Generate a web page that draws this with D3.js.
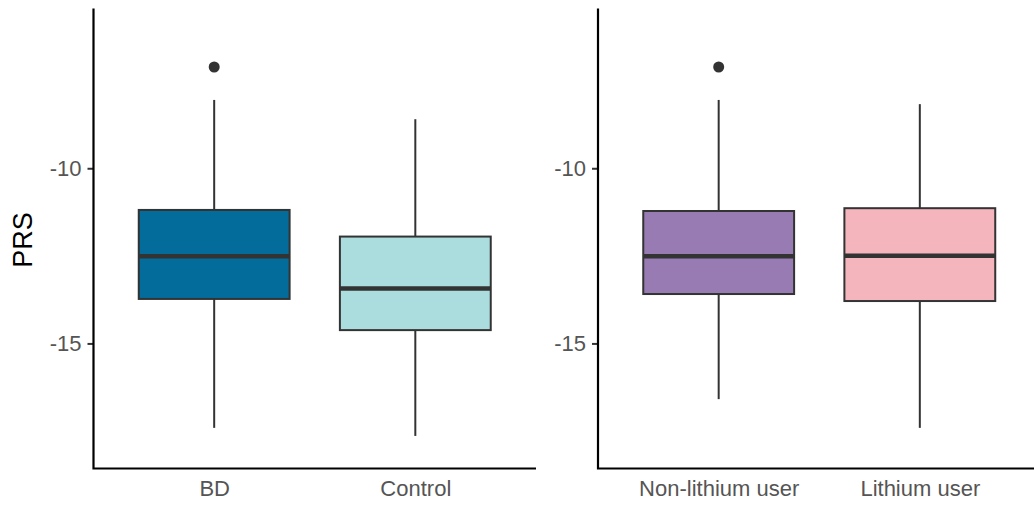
<!DOCTYPE html>
<html>
<head>
<meta charset="utf-8">
<script src="https://cdn.jsdelivr.net/npm/d3@7"></script>
<style>
  html, body { margin: 0; padding: 0; background: #fff; }
  svg { display: block; }
  text { font-family: "Liberation Sans", Arial, Helvetica, sans-serif; }
</style>
</head>
<body>
<svg id="chart" width="1034" height="505"></svg>
<script>
// Polygenic risk score by group: five-number summaries per box
const diagnosisGroups = ["BD", "Control"];
const diagnosisLower  = [-17.41, -17.64];
const diagnosisQ1     = [-13.73, -14.62];
const diagnosisMedian = [-12.51, -13.43];
const diagnosisQ3     = [-11.19, -11.95];
const diagnosisUpper  = [-8.05, -8.60];
const diagnosisOutliers = [[-7.11], []];
const diagnosisColors = ["#046C9A", "#ABDDDE"];

const lithiumGroups = ["Non-lithium user", "Lithium user"];
const lithiumLower  = [-16.59, -17.41];
const lithiumQ1     = [-13.59, -13.79];
const lithiumMedian = [-12.51, -12.50];
const lithiumQ3     = [-11.22, -11.14];
const lithiumUpper  = [-8.05, -8.17];
const lithiumOutliers = [[-7.11], []];
const lithiumColors = ["#977BB2", "#F5B5BD"];

const yTicks = [-10, -15];
const yDomain = [-18.57, -5.44];
const yLabel = "PRS";

const svg = d3.select("#chart");
const y = d3.scaleLinear().domain(yDomain).range([468.5, 8.5]);

function drawPanel(x0, x1, groups, lower, q1, med, q3, upper, outliers, colors) {
  const g = svg.append("g");
  const x = d3.scalePoint().domain(groups).range([x0, x1]).padding(0.6);
  const boxW = x.step() * 0.75;

  const rows = groups.map((k, i) => ({
    k, lo: lower[i], q1: q1[i], med: med[i], q3: q3[i], hi: upper[i],
    out: outliers[i], fill: colors[i]
  }));

  const box = g.selectAll("g.box").data(rows).join("g").attr("class", "box");

  // whiskers
  box.append("line")
    .attr("x1", d => x(d.k)).attr("x2", d => x(d.k))
    .attr("y1", d => y(d.q3)).attr("y2", d => y(d.hi))
    .attr("stroke", "#333333").attr("stroke-width", 2);
  box.append("line")
    .attr("x1", d => x(d.k)).attr("x2", d => x(d.k))
    .attr("y1", d => y(d.q1)).attr("y2", d => y(d.lo))
    .attr("stroke", "#333333").attr("stroke-width", 2);

  // interquartile box
  box.append("rect")
    .attr("x", d => x(d.k) - boxW / 2).attr("width", boxW)
    .attr("y", d => y(d.q3)).attr("height", d => y(d.q1) - y(d.q3))
    .attr("fill", d => d.fill)
    .attr("stroke", "#333333").attr("stroke-width", 2);

  // median
  box.append("line")
    .attr("x1", d => x(d.k) - boxW / 2).attr("x2", d => x(d.k) + boxW / 2)
    .attr("y1", d => y(d.med)).attr("y2", d => y(d.med))
    .attr("stroke", "#333333").attr("stroke-width", 4.5);

  // outliers
  box.selectAll("circle").data(d => d.out.map(v => ({ k: d.k, v })))
    .join("circle")
    .attr("cx", d => x(d.k)).attr("cy", d => y(d.v)).attr("r", 5.5)
    .attr("fill", "#333333");

  // y axis (plain hyphen-minus in labels)
  const yAxis = g.append("g").attr("transform", `translate(${x0},0)`)
    .call(d3.axisLeft(y).tickValues(yTicks).tickSize(6).tickPadding(6).tickFormat(d => String(d)));
  yAxis.select(".domain").remove();
  yAxis.selectAll(".tick line").attr("stroke", "#333333").attr("stroke-width", 2);
  yAxis.selectAll(".tick text").attr("fill", "#555555").attr("font-size", 22);

  // x axis labels
  const xAxis = g.append("g").attr("transform", `translate(0,${y.range()[0]})`)
    .call(d3.axisBottom(x).tickSize(0).tickPadding(12));
  xAxis.select(".domain").remove();
  xAxis.selectAll(".tick text").attr("fill", "#555555").attr("font-size", 22);

  // axis lines
  g.append("path")
    .attr("d", `M${x0},${y.range()[1]}V${y.range()[0]}H${x1}`)
    .attr("fill", "none").attr("stroke", "#000").attr("stroke-width", 2.2);
}

drawPanel(93.5, 536, diagnosisGroups, diagnosisLower, diagnosisQ1, diagnosisMedian,
          diagnosisQ3, diagnosisUpper, diagnosisOutliers, diagnosisColors);
drawPanel(598, 1040.5, lithiumGroups, lithiumLower, lithiumQ1, lithiumMedian,
          lithiumQ3, lithiumUpper, lithiumOutliers, lithiumColors);

svg.append("text")
  .attr("transform", "translate(32,240) rotate(-90)")
  .attr("text-anchor", "middle")
  .attr("font-size", 27)
  .attr("fill", "#000")
  .text(yLabel);
</script>
</body>
</html>
